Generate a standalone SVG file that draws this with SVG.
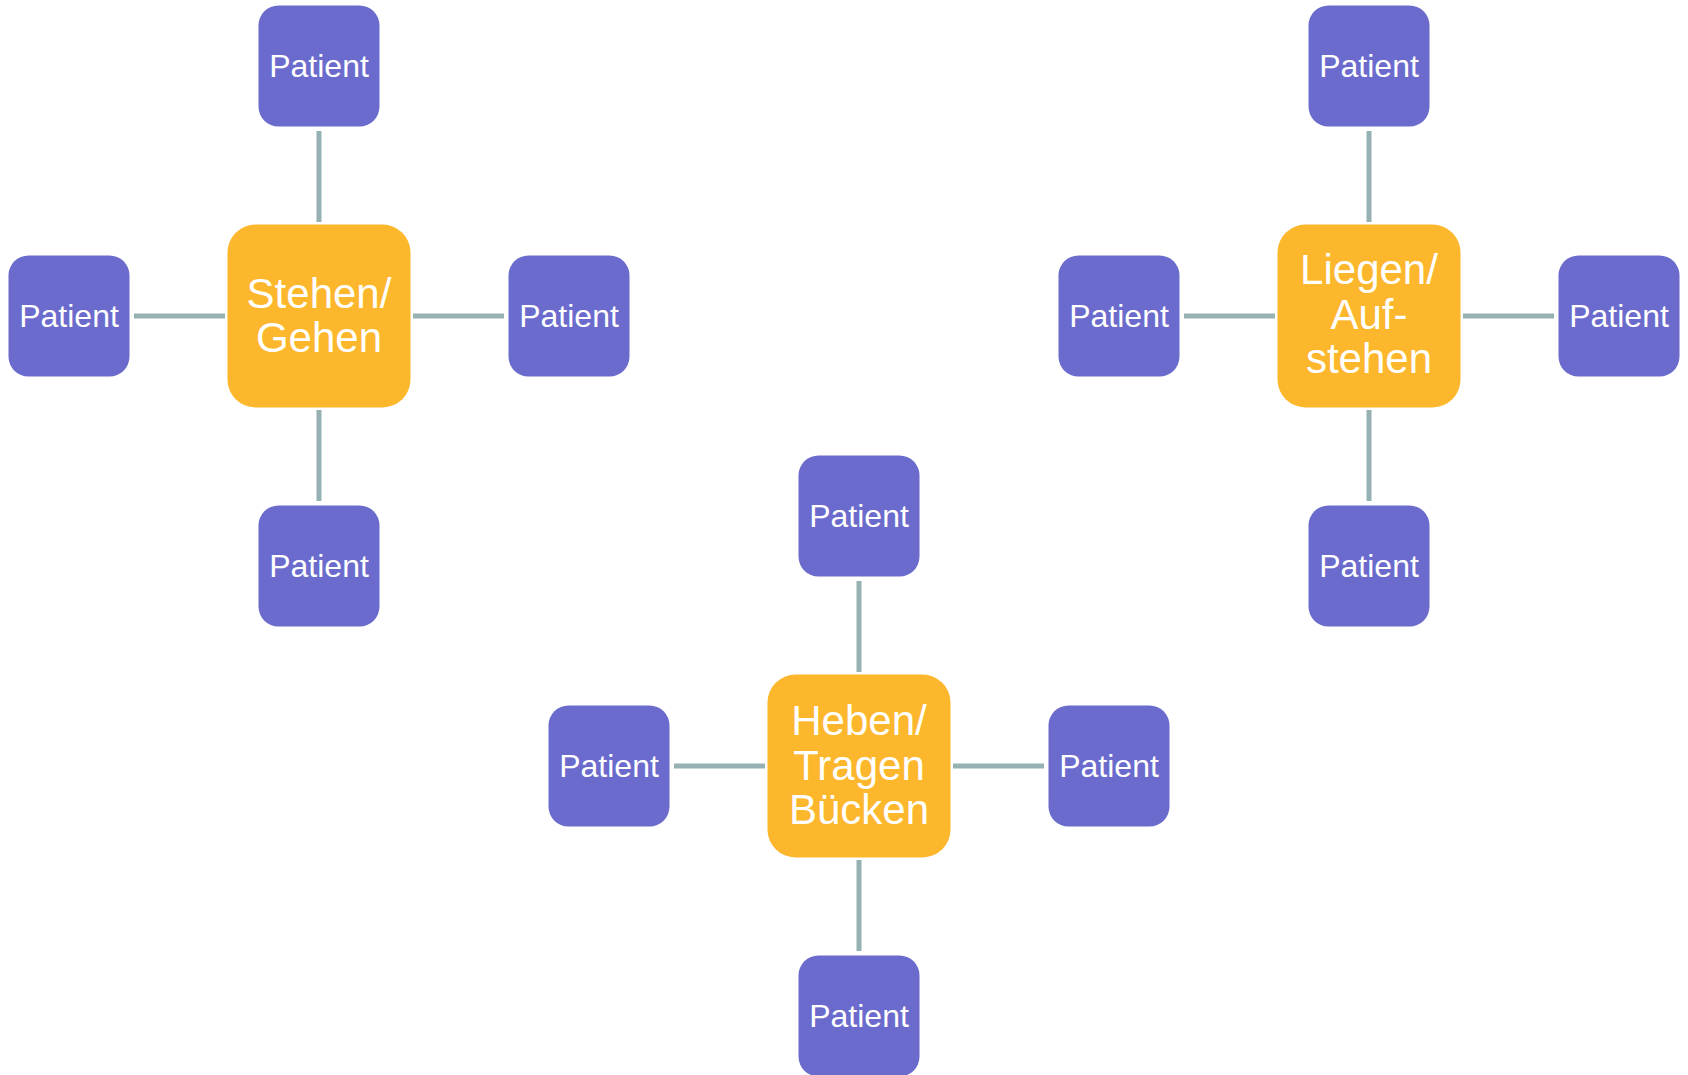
<svg xmlns="http://www.w3.org/2000/svg" width="1688" height="1075" viewBox="0 0 1688 1075">
<style>
.p{fill:#6B6BCD}
.c{fill:#FDB72C}
.t{font-family:"Liberation Sans",Arial,sans-serif;fill:#FFFFFF;text-anchor:middle}
.pt{font-size:32px}
.ct{font-size:42px}
.l{stroke:#95B1B2;stroke-width:5;fill:none}
</style>
<rect width="1688" height="1075" fill="#FFFFFF"/>
<g id="connectors">
<line class="l" x1="319" y1="131" x2="319" y2="222"/>
<line class="l" x1="319" y1="410" x2="319" y2="501"/>
<line class="l" x1="134" y1="316" x2="225" y2="316"/>
<line class="l" x1="413" y1="316" x2="504" y2="316"/>
<line class="l" x1="1369" y1="131" x2="1369" y2="222"/>
<line class="l" x1="1369" y1="410" x2="1369" y2="501"/>
<line class="l" x1="1184" y1="316" x2="1275" y2="316"/>
<line class="l" x1="1463" y1="316" x2="1554" y2="316"/>
<line class="l" x1="859" y1="581" x2="859" y2="672"/>
<line class="l" x1="859" y1="860" x2="859" y2="951"/>
<line class="l" x1="674" y1="766" x2="765" y2="766"/>
<line class="l" x1="953" y1="766" x2="1044" y2="766"/>
</g>
<g id="c1"><rect class="c" x="227.5" y="224.5" width="183" height="183" rx="28"/><text class="t ct" x="319" y="307.5">Stehen/</text><text class="t ct" x="319" y="352">Gehen</text></g>
<g id="p1t"><rect class="p" x="258.5" y="5.5" width="121" height="121" rx="20"/><text class="t pt" x="319" y="76.5">Patient</text></g>
<g id="p1b"><rect class="p" x="258.5" y="505.5" width="121" height="121" rx="20"/><text class="t pt" x="319" y="576.5">Patient</text></g>
<g id="p1l"><rect class="p" x="8.5" y="255.5" width="121" height="121" rx="20"/><text class="t pt" x="69" y="326.5">Patient</text></g>
<g id="p1r"><rect class="p" x="508.5" y="255.5" width="121" height="121" rx="20"/><text class="t pt" x="569" y="326.5">Patient</text></g>
<g id="c2"><rect class="c" x="1277.5" y="224.5" width="183" height="183" rx="28"/><text class="t ct" x="1369" y="284">Liegen/</text><text class="t ct" x="1369" y="328.5">Auf-</text><text class="t ct" x="1369" y="373">stehen</text></g>
<g id="p2t"><rect class="p" x="1308.5" y="5.5" width="121" height="121" rx="20"/><text class="t pt" x="1369" y="76.5">Patient</text></g>
<g id="p2b"><rect class="p" x="1308.5" y="505.5" width="121" height="121" rx="20"/><text class="t pt" x="1369" y="576.5">Patient</text></g>
<g id="p2l"><rect class="p" x="1058.5" y="255.5" width="121" height="121" rx="20"/><text class="t pt" x="1119" y="326.5">Patient</text></g>
<g id="p2r"><rect class="p" x="1558.5" y="255.5" width="121" height="121" rx="20"/><text class="t pt" x="1619" y="326.5">Patient</text></g>
<g id="c3"><rect class="c" x="767.5" y="674.5" width="183" height="183" rx="28"/><text class="t ct" x="859" y="735">Heben/</text><text class="t ct" x="859" y="779.5">Tragen</text><text class="t ct" x="859" y="824">Bücken</text></g>
<g id="p3t"><rect class="p" x="798.5" y="455.5" width="121" height="121" rx="20"/><text class="t pt" x="859" y="526.5">Patient</text></g>
<g id="p3b"><rect class="p" x="798.5" y="955.5" width="121" height="121" rx="20"/><text class="t pt" x="859" y="1026.5">Patient</text></g>
<g id="p3l"><rect class="p" x="548.5" y="705.5" width="121" height="121" rx="20"/><text class="t pt" x="609" y="776.5">Patient</text></g>
<g id="p3r"><rect class="p" x="1048.5" y="705.5" width="121" height="121" rx="20"/><text class="t pt" x="1109" y="776.5">Patient</text></g>
</svg>
